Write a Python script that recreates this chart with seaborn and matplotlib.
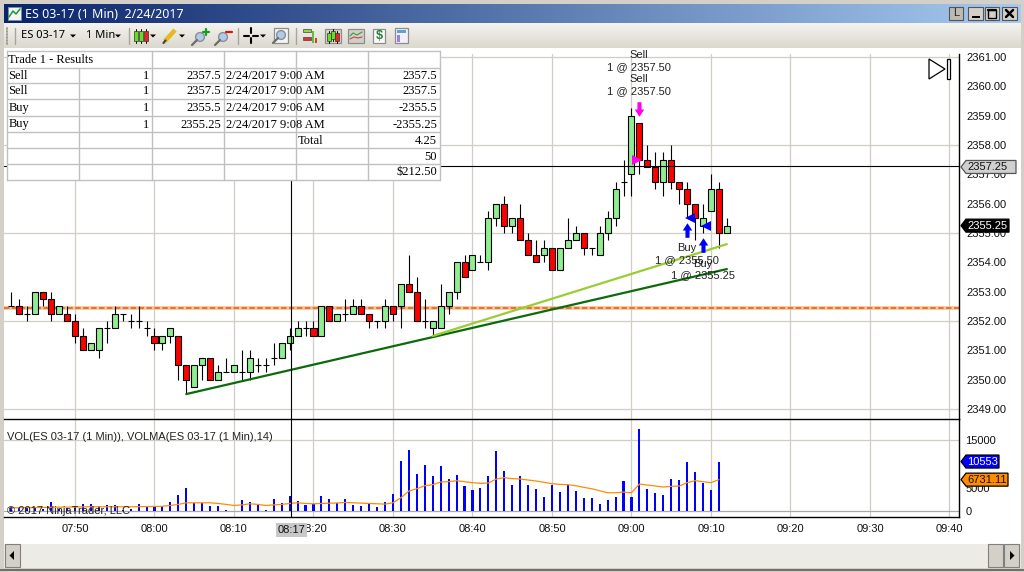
# ============================================================
# ES 03-17 (1 Min) 2/24/2017 - candles, volume and trade table
# ============================================================
import numpy as np
import pandas as pd
import matplotlib
matplotlib.use('Agg')
import matplotlib.pyplot as plt
from matplotlib.patches import Rectangle, Polygon, Circle
from matplotlib.path import Path
import seaborn as sns

# ===================== DATA =================================
# one entry per minute, first bar is 07:42
opens = [2352.5, 2352.5, 2352.25, 2352.25, 2353, 2352.75, 2352.25, 2352.25, 2352, 2351.5,
         2351, 2351, 2351.75, 2351.75, 2352.25, 2352, 2352, 2351.75, 2351.5, 2351.25,
         2351.5, 2351.5, 2350.5, 2349.75, 2350.5, 2350.75, 2350, 2350.25, 2350.25, 2350.25,
         2350.25, 2350.5, 2350.5, 2350.75, 2350.75, 2351.25, 2351.5, 2351.75, 2351.75, 2351.5,
         2352.5, 2352, 2352.25, 2352.25, 2352.5, 2352.25, 2352, 2352, 2352.5, 2352.5,
         2353.25, 2353, 2352, 2351.75, 2351.75, 2352.5, 2353, 2354, 2353.75, 2354,
         2354, 2355.5, 2356, 2355.25, 2355.5, 2354.75, 2354.25, 2354.25, 2354.5, 2353.75,
         2354.5, 2354.75, 2355, 2354.5, 2354.25, 2355, 2355.5, 2356.75, 2357, 2358.75,
         2357.5, 2357.25, 2356.75, 2357.5, 2356.75, 2356.5, 2356, 2355.25, 2355.75, 2356.5,
         2355]
closes = [2352.5, 2352.25, 2352.25, 2353, 2352.75, 2352.25, 2352.5, 2352, 2351.5, 2351,
          2351.25, 2351.75, 2351.75, 2352.25, 2352.25, 2352, 2352, 2351.75, 2351.25, 2351.5,
          2351.75, 2350.5, 2350, 2350.5, 2350.75, 2350, 2350.25, 2350.25, 2350.5, 2350.25,
          2350.75, 2350.5, 2350.5, 2350.75, 2351.25, 2351.5, 2351.75, 2351.75, 2351.5, 2352.5,
          2352, 2352.25, 2352.25, 2352.5, 2352.25, 2352, 2352, 2352.5, 2352.25, 2353.25,
          2353, 2352, 2352, 2352, 2352.5, 2353, 2354, 2353.5, 2354.25, 2354,
          2355.5, 2356, 2355.25, 2355.5, 2354.75, 2354.25, 2354, 2354.5, 2353.75, 2354.5,
          2354.75, 2355, 2354.5, 2354.5, 2355, 2355.5, 2356.5, 2356.75, 2359, 2357.5,
          2357.25, 2356.75, 2357.5, 2356.75, 2356.5, 2356, 2355.5, 2355.5, 2356.5, 2355,
          2355.25]
highs = [2353, 2352.75, 2352.5, 2353, 2353, 2353, 2352.5, 2352.5, 2352.25, 2351.75,
         2351.25, 2351.75, 2352, 2352.5, 2352.25, 2352.25, 2352.5, 2352, 2351.75, 2351.5,
         2351.75, 2351.5, 2350.5, 2350.5, 2350.75, 2350.75, 2350.5, 2350.75, 2350.5, 2351,
         2351, 2350.75, 2350.75, 2351.25, 2351.25, 2351.75, 2352, 2352, 2352, 2352.5,
         2352.5, 2352.25, 2352.75, 2352.75, 2352.75, 2352.25, 2352, 2352.75, 2352.5, 2353.25,
         2354.25, 2353.5, 2352.75, 2352, 2353.25, 2353, 2354, 2354.25, 2354.25, 2354.25,
         2355.75, 2356, 2356.25, 2355.5, 2356, 2355, 2354.75, 2354.75, 2354.5, 2354.5,
         2355.5, 2355.25, 2355, 2354.5, 2355.25, 2355.75, 2356.75, 2357.5, 2359.25, 2358.75,
         2358, 2357.75, 2357.75, 2358, 2356.75, 2356.75, 2356, 2356, 2357, 2356.75,
         2355.5]
lows = [2352.5, 2352.25, 2352, 2352.25, 2352.5, 2352, 2352.25, 2352, 2351.25, 2351,
        2351, 2350.75, 2351.25, 2351.75, 2352, 2351.75, 2351.75, 2351.5, 2351, 2351,
        2351.25, 2350, 2349.5, 2349.75, 2350, 2350, 2350, 2350.25, 2350.25, 2350,
        2350, 2350.25, 2350.25, 2350.5, 2350.75, 2351, 2351.5, 2351.5, 2351.5, 2351.5,
        2352, 2352, 2352, 2352.25, 2352.25, 2351.75, 2351.75, 2351.75, 2352, 2351.75,
        2353, 2352, 2351.75, 2351.5, 2351.75, 2352.25, 2352.75, 2353.5, 2353.75, 2354,
        2353.75, 2355.25, 2355, 2355, 2354.75, 2354.25, 2354, 2354, 2353.75, 2353.75,
        2354.5, 2354.75, 2354.25, 2354.25, 2354.25, 2354.75, 2355.25, 2356.25, 2356.25, 2357,
        2357.25, 2356.5, 2356.25, 2356.5, 2356, 2355.5, 2354.75, 2355, 2355.75, 2354.5,
        2355]
volumes = [800, 700, 1000, 900, 500, 2100, 600, 800, 700, 1490,
           1490, 1060, 1270, 1400, 300, 600, 1490, 1060, 1060, 1060,
           1910, 3400, 4880, 1700, 1700, 1060, 1060, 420, 210, 2340,
           1910, 1270, 420, 2550, 1700, 3180, 2120, 1270, 1490, 3180,
           2550, 1700, 2550, 1270, 1060, 1700, 850, 2100, 3600, 10600,
           12950, 7850, 9770, 7430, 9550, 6800, 7640, 5300, 4460, 4880,
           7430, 12740, 8490, 5520, 7430, 5520, 4670, 2970, 5520, 4030,
           5520, 4250, 2760, 2760, 1490, 2340, 2970, 6370, 2970, 17400,
           4670, 3820, 3400, 6800, 6580, 10400, 8280, 5950, 4460, 10553]
vol_ma = [780, 800, 820, 830, 850, 900, 920, 930, 950, 980,
          1000, 1000, 1000, 1000, 1000, 1000, 1020, 1050, 1060, 1100,
          1270, 1500, 1840, 1840, 1840, 1840, 1700, 1500, 1270, 1400,
          1630, 1500, 1270, 1400, 1490, 1700, 1840, 1700, 1630, 1700,
          1750, 1800, 1910, 1840, 1770, 1700, 1630, 1560, 1840, 2900,
          4320, 4810, 5450, 5660, 6230, 6300, 6510, 6300, 6090, 5950,
          6020, 6860, 7150, 6940, 6860, 6650, 6440, 6160, 5870, 5730,
          5660, 5450, 5100, 4810, 4390, 3960, 3960, 4100, 3960, 5800,
          5590, 5380, 5170, 5310, 5380, 6090, 6510, 6300, 6090, 6731.11]

time_ticks = [8, 18, 28, 38, 48, 58, 68, 78, 88, 98, 108, 118]
time_labels = ['07:50', '08:00', '08:10', '08:20', '08:30', '08:40', '08:50', '09:00',
               '09:10', '09:20', '09:30', '09:40']
price_ticks = [2349, 2350, 2351, 2352, 2353, 2354, 2355, 2356, 2357, 2358, 2359, 2360, 2361]
price_grid = [2349, 2352, 2355, 2358, 2361]
vol_ticks = [0, 5000, 10000, 15000]

support_x = [22, 90]
support_y = [2349.51, 2353.77]
rising_x = [53, 90]
rising_y = [2351.49, 2354.62]
level_price = 2352.43
cross_x = 35.17
cross_y = 2357.28
last_price = 2355.25
cross_label = '08:17'

# trade markers
sell_arrow_x, sell_arrow_y = 79, 2359.21
sell_fill_x, sell_fill_y = 78.7, 2357.5
buy_arrow_x = [85, 87]
buy_arrow_y = [2355.10, 2354.59]
buy_fill_x = [85.3, 87.4]
buy_fill_y = [2355.5, 2355.25]

table_rows = [['Sell', '1', '2357.5', '2/24/2017 9:00 AM', '2357.5'],
              ['Sell', '1', '2357.5', '2/24/2017 9:00 AM', '2357.5'],
              ['Buy', '1', '2355.5', '2/24/2017 9:06 AM', '-2355.5'],
              ['Buy', '1', '2355.25', '2/24/2017 9:08 AM', '-2355.25']]
table_footer = [('Total', '4.25'), ('', '50'), ('', '$212.50')]

df = pd.DataFrame({'minute': np.arange(len(opens)), 'open': opens, 'close': closes,
                   'high': highs, 'low': lows})
vol_df = pd.DataFrame({'minute': np.arange(len(volumes)), 'vol': volumes, 'ma': vol_ma})

# ===================== FIGURE ===============================
sns.set_theme(style='white')
plt.rcParams['font.family'] = ['Liberation Sans', 'DejaVu Sans']
W, H = 1024, 572
FRAME = '#d4d0c8'
GRID = '#d0cdc5'
fig = plt.figure(figsize=(W / 100, H / 100), dpi=100, facecolor=FRAME)


def pane(left, top, right, bottom, z):
    return fig.add_axes([left / W, 1 - bottom / H, (right - left) / W, (bottom - top) / H], zorder=z)


bg = pane(0, 0, W, H, 0)
ax = pane(4, 54, 959, 419, 1)
vax = pane(4, 419, 959, 517, 1)
ov = pane(0, 0, W, H, 3)
for a in (bg, ov):
    a.set_xlim(0, W)
    a.set_ylim(H, 0)
    a.axis('off')
ov.patch.set_visible(False)

# ===================== WINDOW BACKGROUND ====================
bg.add_patch(Rectangle((4, 48), 1017, 496, fc='white', ec='none'))
bg.imshow(np.linspace(0, 1, 256).reshape(1, -1), extent=(4, 1021, 23, 4), aspect='auto',
          cmap=matplotlib.colors.LinearSegmentedColormap.from_list('t', ['#0a246a', '#a6caf0']))
bg.imshow(np.linspace(0, 1, 32).reshape(-1, 1), extent=(4, 1021, 48, 23), aspect='auto',
          cmap=matplotlib.colors.LinearSegmentedColormap.from_list('b', ['#f4f3ee', '#dbd8cf']))
bg.set_xlim(0, W)
bg.set_ylim(H, 0)

# ===================== PRICE PANE ===========================
ax.patch.set_visible(False)
for x in time_ticks:
    ax.axvline(x, color=GRID, lw=0.9, zorder=0)
for p in price_grid:
    ax.axhline(p, color=GRID, lw=0.9, zorder=0)

ax.axhline(level_price, color='#f3c39c', lw=2.6, zorder=1)
ax.axhline(level_price, color='#e5772a', lw=1.5, ls=(0, (2.6, 1.2)), zorder=1.1)

ax.vlines(df['minute'], df['low'], df['high'], color='black', lw=0.8, zorder=2)
up = df['close'] >= df['open']
ax.bar(df['minute'], df['close'] - df['open'], bottom=df['open'], width=0.76,
       color=np.where(up, '#90ee90', '#ff0000'), edgecolor='black', linewidth=0.8, zorder=3)

sns.lineplot(x=support_x, y=support_y, color='#0b6b0b', lw=1.6, ax=ax, zorder=4)
sns.lineplot(x=rising_x, y=rising_y, color='#9acd32', lw=1.6, ax=ax, zorder=4)

ax.axvline(cross_x, color='black', lw=0.8, zorder=5)
ax.axhline(cross_y, color='black', lw=0.8, zorder=5)

# trade arrows
arrow_on_screen_down = Path([(-0.28, 0), (-0.65, 0), (0, -1), (0.65, 0), (0.28, 0), (0.28, 1), (-0.28, 1), (-0.28, 0)])
arrow_on_screen_up = Path([(-0.28, 0), (-0.65, 0), (0, 1), (0.65, 0), (0.28, 0), (0.28, -1), (-0.28, -1), (-0.28, 0)])
ax.plot([sell_arrow_x], [sell_arrow_y], marker=arrow_on_screen_down, ms=10.5, color='#ff00ee', mew=0, zorder=6)
ax.plot([sell_fill_x], [sell_fill_y], marker='>', ms=7, color='#ff00ee', mew=0, zorder=6)
ax.plot(buy_arrow_x, buy_arrow_y, ls='none', marker=arrow_on_screen_up, ms=10.5, color='#0000ff', mew=0, zorder=6)
ax.plot(buy_fill_x, buy_fill_y, ls='none', marker='<', ms=7, color='#0000ff', mew=0, zorder=6)

ax.set_xlim(-0.93, 119.2)
ax.set_ylim(2348.66, 2361.10)
ax.set_xticks(time_ticks)
ax.set_yticks(price_ticks)
ax.set_yticklabels([f'{p:.2f}' for p in price_ticks])
ax.yaxis.tick_right()
ax.tick_params(axis='x', length=0, labelbottom=False)
ax.tick_params(axis='y', length=5, width=0.8, pad=0.5, labelsize=8, color='black', labelcolor='#111111')
sns.despine(ax=ax, top=True, left=True, bottom=True, right=False)
ax.spines['right'].set_color('black')
ax.spines['right'].set_linewidth(1)
ax.set_xlabel('')
ax.set_ylabel('')

# ===================== VOLUME PANE ==========================
vax.patch.set_visible(False)
for x in time_ticks:
    vax.axvline(x, color=GRID, lw=0.9, zorder=0)
vax.axhline(15000, color=GRID, lw=0.9, zorder=0)
vax.axhline(0, color='#a9a9a9', lw=0.9, zorder=0)

sns.barplot(data=vol_df, x='minute', y='vol', native_scale=True, color='#0000ff', saturation=1,
            width=0.26, linewidth=0, ax=vax, zorder=2)
sns.lineplot(data=vol_df, x='minute', y='ma', color='#ff8c00', lw=0.9, ax=vax, zorder=3)
vax.axvline(cross_x, color='black', lw=0.8, zorder=4)

vax.set_xlim(-0.93, 119.2)
vax.set_ylim(-1162, 19540)
vax.set_xticks(time_ticks)
vax.set_xticklabels(time_labels)
vax.set_yticks(vol_ticks)
vax.yaxis.tick_right()
vax.tick_params(axis='both', length=4, width=0.8, labelsize=8, color='black', labelcolor='#111111')
vax.tick_params(axis='y', pad=0.5)
vax.tick_params(axis='x', pad=1)
sns.despine(ax=vax, left=True, top=False, right=False, bottom=False)
for s in ('top', 'right', 'bottom'):
    vax.spines[s].set_color('black')
    vax.spines[s].set_linewidth(1)
vax.set_xlabel('')
vax.set_ylabel('')

ov.text(7, 437, 'VOL(ES 03-17 (1 Min)), VOLMA(ES 03-17 (1 Min),14)', fontsize=8, va='center', color='#222222')
ov.text(7, 510.5, '\u00a9 2017 NinjaTrader, LLC', fontsize=8, va='center', color='#222222')

# ===================== TRADE LABELS =========================
def label(x_px, y_px, txt):
    ov.text(x_px, y_px, txt, fontsize=8, ha='center', va='center', color='#222222')


for y0 in (55, 79):
    label(639, y0, 'Sell')
    label(639, y0 + 12, '1 @ 2357.50')
label(687, 248, 'Buy')
label(687, 260, '1 @ 2355.50')
label(703, 264, 'Buy')
label(703, 275, '1 @ 2355.25')

# end-of-chart button
ov.add_patch(Polygon([(929, 59), (945, 69), (929, 79)], fc='white', ec='black', lw=0.9))
ov.add_patch(Rectangle((946.5, 59), 3, 20, fc='white', ec='black', lw=0.9))

# ===================== RESULTS TABLE ========================
col_x = [7, 79, 152, 224, 296, 368, 440]
row_y = [51, 68, 83, 99, 116, 132, 148, 164, 180]
TBL = '#c0c0c0'
SERIF = ['Liberation Serif', 'DejaVu Serif']
ov.add_patch(Rectangle((col_x[0], row_y[0]), col_x[-1] - col_x[0], row_y[-1] - row_y[0], fc='white', ec='none'))
for y in row_y:
    ov.plot([col_x[0], col_x[-1]], [y, y], color=TBL, lw=1)
for i, x in enumerate(col_x):
    y_start = row_y[1] if i == 1 else row_y[0]
    ov.plot([x, x], [y_start, row_y[-1]], color=TBL, lw=1)


def cell(x, row, txt, ha='left'):
    ov.text(x, (row_y[row] + row_y[row + 1]) / 2 + 0.5, txt, family=SERIF, fontsize=9, ha=ha, va='center', color='black')


cell(col_x[0] + 1.5, 0, 'Trade 1 - Results')
for r, vals in enumerate(table_rows, start=1):
    cell(col_x[0] + 1.5, r, vals[0])
    cell(col_x[2] - 3, r, vals[1], ha='right')
    cell(col_x[3] - 3, r, vals[2], ha='right')
    cell(col_x[3] + 1.5, r, vals[3])
    cell(col_x[6] - 3, r, vals[4], ha='right')
for r, (name, val) in enumerate(table_footer, start=5):
    cell(col_x[4] + 1.5, r, name)
    cell(col_x[6] - 3, r, val, ha='right')

# ===================== AXIS TAGS ============================
def tag(axes, value, txt, right, fc, tc, ec='black'):
    y = H - axes.transData.transform((0, value))[1]
    ov.add_patch(Polygon([(961, y), (966, y - 6.5), (right, y - 6.5), (right, y + 6.5), (966, y + 6.5)],
                         fc=fc, ec=ec, lw=0.9, zorder=5))
    ov.text(967.5, y, txt, fontsize=8, va='center', color=tc, zorder=6)


tag(ax, cross_y - 0.03, '2357.25', 1016, '#d0d0d0', '#111111', ec='#555555')
tag(ax, last_price, '2355.25', 1009, 'black', 'white')
tag(vax, volumes[-1], '10553', 999, '#0000ff', 'white')
tag(vax, vol_ma[-1], '6731.11', 1008, '#ff8c00', '#111111')

ov.text(291.5, 530, cross_label, fontsize=8, ha='center', va='center', color='#111111', zorder=6,
        bbox=dict(boxstyle='square,pad=0.16', fc='#c8c8c8', ec='none'))

# ===================== TITLE BAR ============================
ov.add_patch(Rectangle((8, 7), 13, 13, fc='#f2f4f8', ec='#7b8ba8', lw=0.7))
ov.plot([9, 13, 16, 20], [17, 11, 14, 9], color='#1c9a2e', lw=1.1)
ov.text(25, 14, 'ES 03-17 (1 Min)  2/24/2017', color='white', fontsize=9, fontweight='bold',
        family=['Noto Sans', 'DejaVu Sans'], va='center')


def win_btn(x0, x1, y0=7, y1=20, fc=FRAME):
    ov.add_patch(Rectangle((x0, y0), x1 - x0, y1 - y0, fc=fc, ec='#555555', lw=0.8))


win_btn(949, 963, fc='#bdbab2')
ov.text(956, 13.5, 'L', fontsize=8, ha='center', va='center', color='#222222')
win_btn(968, 983)
ov.add_patch(Rectangle((972, 15.5), 8, 2, fc='black', ec='none'))
win_btn(985, 999)
ov.add_patch(Rectangle((988, 9.5), 8, 8, fc='none', ec='black', lw=1))
ov.plot([988, 996], [10, 10], color='black', lw=1.6)
win_btn(1002, 1017)
ov.plot([1006, 1013], [10, 17], color='black', lw=1.8)
ov.plot([1006, 1013], [17, 10], color='black', lw=1.8)

# ===================== TOOLBAR ==============================
def drop(x):
    ov.add_patch(Polygon([(x - 3, 34.5), (x + 3, 34.5), (x, 37.5)], fc='black', ec='none'))


def sep(x):
    ov.plot([x, x], [28, 44], color='#a8a59d', lw=1)


def glass(cx, cy, mark=None):
    ov.plot([cx - 7, cx - 2], [cy + 7, cy + 2], color='#6c6c6c', lw=1.6)
    ov.add_patch(Circle((cx + 1, cy - 1), 4.4, fc='#aecbee', ec='#8d8d8d', lw=1))
    if mark == '+':
        ov.plot([cx + 7, cx + 7], [cy - 9, cy - 3], color='#10a020', lw=1.6)
        ov.plot([cx + 4, cx + 10], [cy - 6, cy - 6], color='#10a020', lw=1.6)
    if mark == '-':
        ov.plot([cx + 4, cx + 10], [cy - 6, cy - 6], color='#e01010', lw=1.6)


def mini_candle(x, y0, y1, c):
    ov.plot([x, x], [y0 - 2, y1 + 2], color='black', lw=0.7)
    ov.add_patch(Rectangle((x - 1.7, y0), 3.4, y1 - y0, fc=c, ec='#333333', lw=0.5, zorder=4))


def icon_box(x0, x1, fc='#e8e8f0'):
    ov.add_patch(Rectangle((x0, 29), x1 - x0, 14, fc=fc, ec='#8d8d8d', lw=0.9))


for y in (28, 31, 34, 37, 40, 43):
    ov.plot([7, 7], [y, y + 1], color='#9c9a92', lw=1.4)
sep(15)
ov.text(21, 36, 'ES 03-17', fontsize=8, va='center', color='black',
        family=['Noto Sans', 'DejaVu Sans'])
drop(73)
ov.text(86, 36, '1 Min', fontsize=8, va='center', color='black', family=['Noto Sans', 'DejaVu Sans'])
drop(118)
sep(129)
mini_candle(136, 31, 41, '#66dd22')
mini_candle(141, 31, 41, '#66dd22')
mini_candle(146, 31, 41, '#ee2222')
drop(153)
ov.plot([165, 175], [41, 30], color='#e8b820', lw=3.2, solid_capstyle='butt')
ov.plot([163.5, 165.5], [43, 40.5], color='#444444', lw=1.6)
drop(182)
glass(199, 38, '+')
glass(222, 38, '-')
sep(238)
ov.plot([244, 249], [35.5, 35.5], color='black', lw=1.5)
ov.plot([253, 258], [35.5, 35.5], color='black', lw=1.5)
ov.plot([251, 251], [28, 33], color='black', lw=1.5)
ov.plot([251, 251], [38, 43], color='black', lw=1.5)
drop(263)
ov.add_patch(Rectangle((274, 28), 14, 15, fc='#f4f4f4', ec='#8d8d8d', lw=0.9))
glass(280, 36)
sep(296)
ov.add_patch(Rectangle((303, 29), 8, 3, fc='#8fd640', ec='#444444', lw=0.5))
ov.add_patch(Rectangle((303, 37), 8, 3, fc='#e03030', ec='#444444', lw=0.5))
ov.add_patch(Rectangle((312, 31), 2, 12, fc='#5fc040', ec='none'))
ov.add_patch(Rectangle((315, 38), 2, 5, fc='#d04030', ec='none'))
icon_box(325, 341, fc='#d8d4c8')
mini_candle(329, 33, 41, '#66dd22')
mini_candle(333, 31, 39, '#66dd22')
mini_candle(337, 33, 41, '#ee2222')
icon_box(348, 364, fc='#d0d0c8')
ov.plot([350, 353, 357, 362], [36, 33, 35, 32], color='#30a040', lw=0.8)
ov.plot([350, 354, 358, 362], [39, 37, 38, 37], color='#d04040', lw=0.8)
ov.add_patch(Rectangle((373, 29), 12, 14, fc='#fafafa', ec='#8d8d8d', lw=0.9))
ov.text(379, 36, '$', fontsize=9, fontweight='bold', ha='center', va='center', color='#208030')
ov.add_patch(Rectangle((395, 28), 13, 15, fc='#f0f0f8', ec='#8d8d8d', lw=0.9))
ov.add_patch(Rectangle((397, 30), 9, 3, fc='#60a0d8', ec='none'))
ov.add_patch(Rectangle((397, 34.5), 2.5, 7, fc='#9a80e0', ec='none'))

# ===================== SCROLL BAR ===========================
ov.add_patch(Rectangle((4, 544), 1017, 24, fc='#ecebe6', ec='none'))


def scroll_btn(x0, x1):
    ov.add_patch(Rectangle((x0, 544), x1 - x0, 23, fc=FRAME, ec='#808080', lw=0.8))


scroll_btn(5, 20)
ov.add_patch(Polygon([(14, 551), (14, 560), (9.5, 555.5)], fc='black', ec='none'))
scroll_btn(988, 1003)
scroll_btn(1004, 1019)
ov.add_patch(Polygon([(1010, 551), (1010, 560), (1014.5, 555.5)], fc='black', ec='none'))
ov.plot([0, W], [569.5, 569.5], color='#6f6d68', lw=1.4)

fig.savefig('out.png', dpi=100, facecolor=fig.get_facecolor())
